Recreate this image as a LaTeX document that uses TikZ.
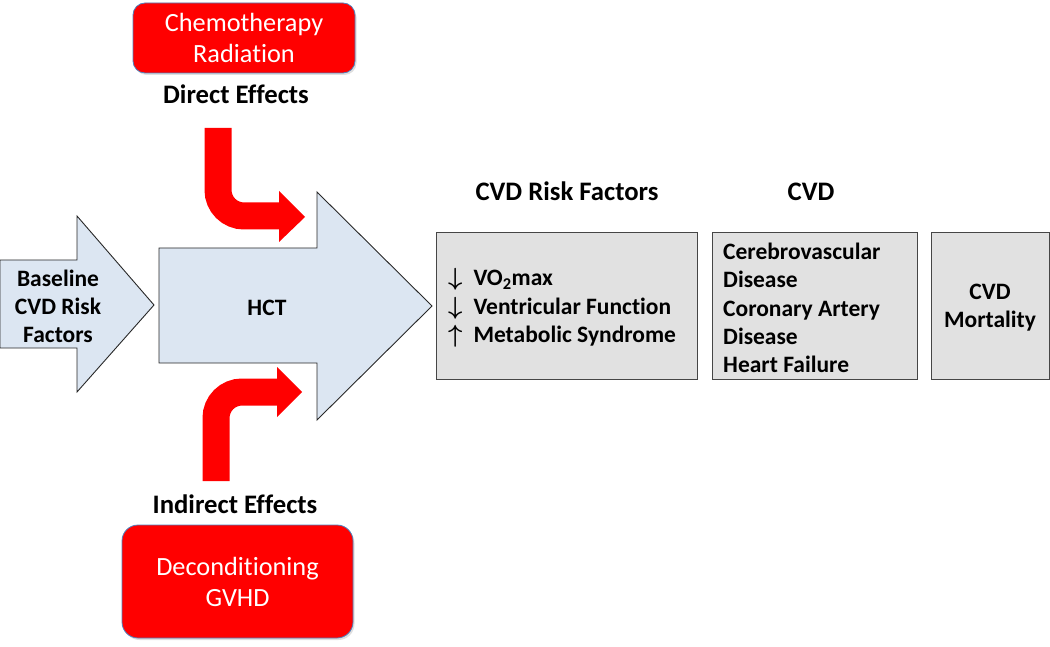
\documentclass[tikz,border=0pt]{standalone}
\usepackage{fontspec}
\setmainfont{Carlito}[Ligatures=NoCommon]
\usetikzlibrary{shadows}
\definecolor{hctblue}{RGB}{220,230,242}
\definecolor{edgegray}{RGB}{40,40,40}
\definecolor{boxgray}{RGB}{225,225,225}
\definecolor{boxedge}{RGB}{70,70,70}
\definecolor{rededge}{RGB}{79,129,189}
\definecolor{pured}{RGB}{255,0,0}
\newcommand{\updn}[1]{{\boldmath$#1$}\hspace{11pt}}
\begin{document}
\begin{tikzpicture}[x=1pt,y=-1pt,
  blueshape/.style={fill=hctblue, draw=edgegray, line width=0.9pt, line join=miter},
  body/.style={font=\fontsize{23.5}{28}\selectfont\bfseries, inner sep=0pt, align=center},
  header/.style={font=\fontsize{26.7}{30}\selectfont\bfseries, inner sep=0pt, anchor=base},
  redbox/.style={fill=pured, draw=rededge, line width=0.8pt, rounded corners=12pt,
    text=white, align=center, font=\fontsize{26.3}{31}\selectfont,
    drop shadow={shadow xshift=1.5pt, shadow yshift=-2pt, opacity=0.25}},
  graybox/.style={fill=boxgray, draw=boxedge, line width=0.9pt, minimum height=147pt,
    inner xsep=11pt, inner ysep=0pt, font=\fontsize{23.5}{28.3}\selectfont\bfseries,
    drop shadow={shadow xshift=1pt, shadow yshift=-1pt, opacity=0.2}},
  redarrow/.style={draw=pured, line width=27pt, rounded corners=26pt},
  redhead/.style={fill=pured},
]
\useasboundingbox (0,0) rectangle (1050,647);

% light blue block arrows
\draw[blueshape] (0,260) -- (77,260) -- (77,216) -- (154,305) -- (77,392) -- (77,348) -- (0,348) -- cycle;
\draw[blueshape] (159,248) -- (317,248) -- (317,192) -- (432,306) -- (317,420) -- (317,363) -- (159,363) -- cycle;
\node[body] (base) at (58,306) {Baseline\\CVD Risk\\Factors};
\node[body] (hct) at (267,308) {HCT};

% red boxes
\node[redbox, minimum width=222pt, minimum height=70pt] (chemo) at (244,38) {Chemotherapy\\Radiation};
\node[redbox, minimum width=231pt, minimum height=113pt, rounded corners=16pt] (decond) at (237.5,581.5) {Deconditioning\\GVHD};

% headers
\node[header] (direct) at (236,104) {Direct Effects};
\node[header] (indirect) at (235,513) {Indirect Effects};
\node[header] (rfhead) at (567,201) {CVD Risk Factors};
\node[header] (cvdhead) at (811,201) {CVD};

% red bent arrows
\coordinate (ta) at (218,128);
\coordinate (tb) at (280,216);
\draw[redarrow] (ta) |- (tb);
\fill[redhead] (279,191) -- (305,217) -- (279,242) -- cycle;
\coordinate (ba) at (216,481);
\coordinate (bb) at (278,392);
\draw[redarrow] (ba) |- (bb);
\fill[redhead] (277,367) -- (302,392) -- (277,417) -- cycle;

% gray boxes
\node[graybox, text width=239pt, align=left] (box1) at (566.5,305.5) {};
\node[body, anchor=west, align=left, font=\fontsize{23.5}{28.3}\selectfont\bfseries] (rf) at (448,308)
  {\updn{\downarrow}VO\textsubscript{2}max\\
   \updn{\downarrow}Ventricular Function\\
   \updn{\uparrow}Metabolic Syndrome};
\node[graybox, text width=183pt, align=left] (box2) at (814.5,305.5) {};
\node[body, anchor=west, align=left, font=\fontsize{23.5}{28.3}\selectfont\bfseries] (cvd) at (723,308)
  {Cerebrovascular\\Disease\\Coronary Artery\\Disease\\Heart Failure};
\node[graybox, text width=96pt, align=center] (box3) at (990,305.5) {};
\node[body] (mort) at (990,307.5) {CVD\\Mortality};
\end{tikzpicture}
\end{document}
